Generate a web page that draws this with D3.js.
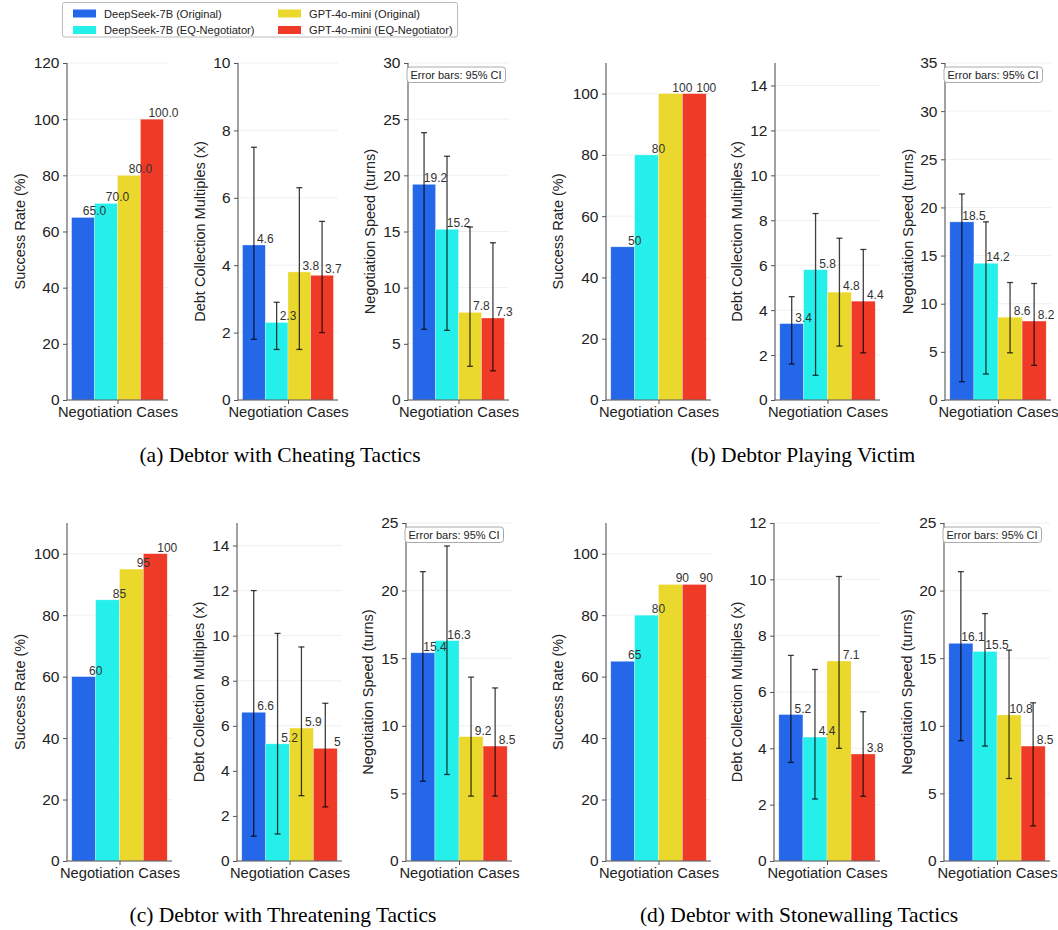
<!DOCTYPE html>
<html>
<head>
<meta charset="utf-8">
<script src="https://cdn.jsdelivr.net/npm/d3@7"></script>
<style>
  html, body { margin: 0; padding: 0; background: #fff; }
  svg { display: block; }
</style>
</head>
<body>
<svg id="chart" width="1058" height="930"></svg>
<script>
// ---------------- DATA ----------------
const models = ["DeepSeek-7B (Original)", "DeepSeek-7B (EQ-Negotiator)", "GPT-4o-mini (Original)", "GPT-4o-mini (EQ-Negotiator)"];
const modelColors = ["#2467e9", "#25efea", "#ebd82c", "#ef3a27"];
const scenarios = ["(a) Debtor with Cheating Tactics", "(b) Debtor Playing Victim", "(c) Debtor with Threatening Tactics", "(d) Debtor with Stonewalling Tactics"];
const metricTitles = ["Success Rate (%)", "Debt Collection Multiples (x)", "Negotiation Speed (turns)"];
const xCategory = "Negotiation Cases";
const ciNote = "Error bars: 95% CI";

const successRate = [[65, 70, 80, 100], [50, 80, 100, 100], [60, 85, 95, 100], [65, 80, 90, 90]];
const successLabels = [["65.0", "70.0", "80.0", "100.0"], ["50", "80", "100", "100"], ["60", "85", "95", "100"], ["65", "80", "90", "90"]];

const debtMultiples = [[4.6, 2.3, 3.8, 3.7], [3.4, 5.8, 4.8, 4.4], [6.6, 5.2, 5.9, 5.0], [5.2, 4.4, 7.1, 3.8]];
const debtLabels = [["4.6", "2.3", "3.8", "3.7"], ["3.4", "5.8", "4.8", "4.4"], ["6.6", "5.2", "5.9", "5"], ["5.2", "4.4", "7.1", "3.8"]];
const debtCILow = [[1.8, 1.5, 1.5, 2.0], [1.6, 1.1, 2.4, 2.1], [1.1, 1.2, 2.9, 2.4], [3.5, 2.2, 4.0, 2.3]];
const debtCIHigh = [[7.5, 2.9, 6.3, 5.3], [4.6, 8.3, 7.2, 6.7], [12.0, 10.1, 9.5, 7.0], [7.3, 6.8, 10.1, 5.3]];

const speedTurns = [[19.2, 15.2, 7.8, 7.3], [18.5, 14.2, 8.6, 8.2], [15.4, 16.3, 9.2, 8.5], [16.1, 15.5, 10.8, 8.5]];
const speedLabels = [["19.2", "15.2", "7.8", "7.3"], ["18.5", "14.2", "8.6", "8.2"], ["15.4", "16.3", "9.2", "8.5"], ["16.1", "15.5", "10.8", "8.5"]];
const speedCILow = [[6.3, 6.2, 3.0, 2.6], [1.9, 2.7, 4.9, 3.6], [5.9, 6.4, 4.8, 4.8], [8.9, 8.5, 6.1, 2.6]];
const speedCIHigh = [[23.8, 21.7, 15.4, 14.0], [21.4, 18.5, 12.2, 12.1], [21.4, 23.3, 13.6, 12.8], [21.4, 18.3, 15.6, 11.7]];

const successMax = [120, 110, 110, 110];
const debtMax = [10, 15, 15, 12];
const speedMax = [30, 35, 25, 25];
const tickSteps = [20, 2, 5];

// ---------------- LAYOUT (not data) ----------------
const rowTop = [63, 523], rowBottom = [400, 861];
const panelX = [
  [[67, 168], [238, 338], [408, 509]],
  [[606, 711], [775, 880], [945, 1051]],
  [[67, 172], [237, 342], [406, 512]],
  [[606, 711], [774, 880], [944, 1050]]
];
const yLabelX = [[20, 200, 370], [558, 737, 908], [20, 199, 368], [558, 737, 907]];
const captionX = [280, 803, 283, 799];
const captionY = [462, 922];

const svg = d3.select("#chart");
const SANS = "'Liberation Sans', Arial, Helvetica, sans-serif";
const SERIF = "'Liberation Serif', 'Times New Roman', serif";

function drawPanel(s, m) {
  const row = Math.floor(s / 2);
  const [x0, x1] = panelX[s][m];
  const top = rowTop[row], bottom = rowBottom[row];
  const values = [successRate, debtMultiples, speedTurns][m][s];
  const labels = [successLabels, debtLabels, speedLabels][m][s];
  const yMax = [successMax, debtMax, speedMax][m][s];
  const lo = m === 1 ? debtCILow[s] : m === 2 ? speedCILow[s] : null;
  const hi = m === 1 ? debtCIHigh[s] : m === 2 ? speedCIHigh[s] : null;

  const W = x1 - x0;
  const pad = (W - W / 1.1) / 2;
  const x = d3.scaleBand().domain(models).range([x0 + pad, x1 - pad]).paddingInner(0).paddingOuter(0);
  const y = d3.scaleLinear().domain([0, yMax]).range([bottom, top]);
  const ticks = d3.range(0, yMax + 1e-9, tickSteps[m]);

  const g = svg.append("g");

  // gridlines
  g.append("g").selectAll("line").data(ticks).join("line")
    .attr("x1", x0).attr("x2", x1)
    .attr("y1", d => y(d)).attr("y2", d => y(d))
    .attr("stroke", "#ececec").attr("stroke-width", 0.8);

  // bars
  g.append("g").selectAll("rect").data(values).join("rect")
    .attr("x", (d, i) => x(models[i]))
    .attr("y", d => y(d))
    .attr("width", x.bandwidth())
    .attr("height", d => y(0) - y(d))
    .attr("fill", (d, i) => modelColors[i])
    .attr("stroke", "#ffffff").attr("stroke-opacity", 0.5).attr("stroke-width", 0.6);

  // value labels (centered at the right edge of each bar)
  g.append("g").selectAll("text").data(values).join("text")
    .attr("x", (d, i) => x(models[i]) + x.bandwidth())
    .attr("y", d => y(d) - 2)
    .attr("text-anchor", "middle")
    .attr("font-family", SANS).attr("font-size", 12).attr("fill", "#333")
    .text((d, i) => labels[i]);

  // error bars
  if (lo) {
    const eg = g.append("g").attr("stroke", "#000").attr("stroke-opacity", 0.75).attr("stroke-width", 1.3);
    values.forEach((v, i) => {
      const cx = x(models[i]) + x.bandwidth() / 2;
      eg.append("line").attr("x1", cx).attr("x2", cx).attr("y1", y(lo[i])).attr("y2", y(hi[i]));
      eg.append("line").attr("x1", cx - 3).attr("x2", cx + 3).attr("y1", y(lo[i])).attr("y2", y(lo[i]));
      eg.append("line").attr("x1", cx - 3).attr("x2", cx + 3).attr("y1", y(hi[i])).attr("y2", y(hi[i]));
    });
  }

  // y axis
  const yAxis = d3.axisLeft(y).tickValues(ticks).tickSize(4).tickPadding(3.5).tickFormat(d3.format("d"));
  const ya = g.append("g").attr("transform", `translate(${x0},0)`).call(yAxis);
  ya.select(".domain").attr("stroke", "#555").attr("stroke-width", 1.1).attr("d", `M0,${bottom}V${top}`);
  ya.selectAll(".tick line").attr("stroke", "#555");
  ya.selectAll(".tick text").attr("font-family", SANS).attr("font-size", 15.5).attr("fill", "#222");

  // x axis
  const xc = d3.scalePoint().domain([xCategory]).range([(x0 + x1) / 2, (x0 + x1) / 2]);
  const xAxis = d3.axisBottom(xc).tickSize(4).tickPadding(3).tickFormat(d => d);
  const xa = g.append("g").attr("transform", `translate(0,${bottom})`).call(xAxis);
  xa.select(".domain").attr("stroke", "#555").attr("stroke-width", 1.1).attr("d", `M${x0},0H${x1}`);
  xa.selectAll(".tick line").attr("stroke", "#555");
  xa.selectAll(".tick text").attr("font-family", SANS).attr("font-size", 14.7).attr("fill", "#222");

  // y label
  const lx = yLabelX[s][m], ly = (top + bottom) / 2;
  g.append("text")
    .attr("transform", `translate(${lx},${ly}) rotate(-90)`)
    .attr("text-anchor", "middle").attr("dominant-baseline", "central")
    .attr("font-family", SANS).attr("font-size", 14.5).attr("fill", "#222")
    .text(metricTitles[m]);

  // CI note
  if (m === 2) {
    const bx = x0 - 1, by = top + 4;
    g.append("rect").attr("x", bx).attr("y", by).attr("width", 98.5).attr("height", 15.5)
      .attr("rx", 3).attr("fill", "#fff").attr("stroke", "#aaa").attr("stroke-width", 1);
    g.append("text").attr("x", bx + 3.5).attr("y", by + 11.7)
      .attr("font-family", SANS).attr("font-size", 11).attr("fill", "#222").text(ciNote);
  }
}

scenarios.forEach((name, s) => {
  for (let m = 0; m < 3; m++) drawPanel(s, m);
  const row = Math.floor(s / 2);
  svg.append("text").attr("x", captionX[s]).attr("y", captionY[row])
    .attr("text-anchor", "middle").attr("font-family", SERIF).attr("font-size", 21.5).attr("fill", "#000")
    .text(name);
});

// legend
const lg = svg.append("g");
lg.append("rect").attr("x", 62.5).attr("y", 2.5).attr("width", 395).attr("height", 34.5)
  .attr("rx", 2).attr("fill", "#fff").attr("stroke", "#bbb").attr("stroke-width", 1);
const legendCols = [73, 278], legendRows = [13.5, 30];
models.forEach((name, i) => {
  const col = Math.floor(i / 2), row = i % 2;
  lg.append("rect").attr("x", legendCols[col]).attr("y", legendRows[row] - 4)
    .attr("width", 23).attr("height", 8).attr("fill", modelColors[i]);
  lg.append("text").attr("x", legendCols[col] + 31).attr("y", legendRows[row])
    .attr("dominant-baseline", "central")
    .attr("font-family", SANS).attr("font-size", 11.1).attr("fill", "#222").text(name);
});
</script>
</body>
</html>
